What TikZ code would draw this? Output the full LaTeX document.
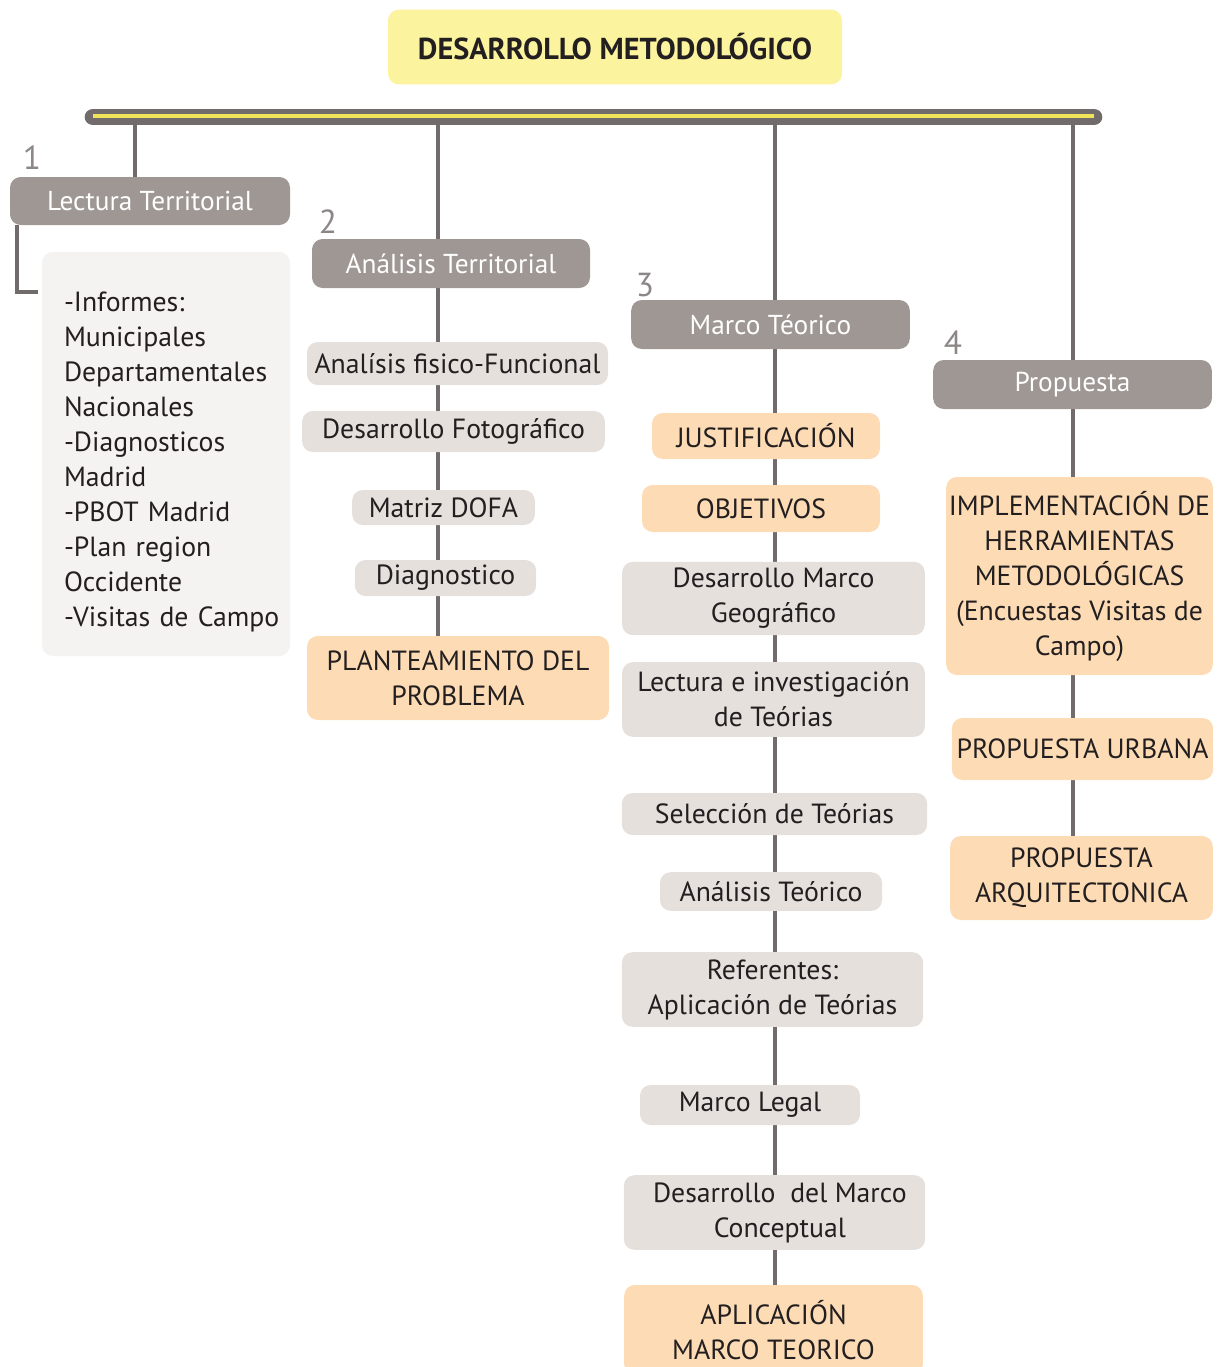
\documentclass[tikz,border=0pt]{standalone}
\usepackage{fontspec}
\setmainfont{PT Sans}
\usetikzlibrary{backgrounds,calc}
\definecolor{hdrgray}{HTML}{9E9793}
\definecolor{boxgray}{HTML}{E6E0DD}
\definecolor{lightbox}{HTML}{F5F3F1}
\definecolor{orangebox}{HTML}{FDDCB5}
\definecolor{titleyel}{HTML}{FBF39E}
\definecolor{connc}{HTML}{716C6B}
\definecolor{txt}{HTML}{231F20}
\definecolor{numc}{HTML}{8C8786}
\definecolor{baryel}{HTML}{F2E45A}
\tikzset{
  base/.style={rounded corners=8pt, inner sep=2pt, align=center, text=txt,
    font=\fontsize{20.8}{26.25}\selectfont},
  hdr/.style={base, fill=hdrgray, text=white, font=\fontsize{20.5}{24}\selectfont},
  gbox/.style={base, fill=boxgray},
  obox/.style={base, fill=orangebox},
  numlab/.style={text=numc, font=\fontsize{25}{27}\selectfont, inner sep=0pt},
  conn/.style={draw=connc, line width=3pt},
}
\begin{document}
\begin{tikzpicture}[x=0.75pt,y=-0.75pt]
\useasboundingbox (0,0) rectangle (1219,1367);
\clip (0,0) rectangle (1219,1367);
% title
\node[base, fill=titleyel, minimum width=340.5pt, minimum height=56pt,
  font=\fontsize{22.7}{26}\selectfont\bfseries] (title) at (615,47) {DESARROLLO METODOLÓGICO};
% bar
\coordinate (bl) at (93,117);
\coordinate (br) at (1094,117);
\draw[connc, line width=12.5pt, line cap=round] (bl) -- (br);
\draw[baryel, line width=3.2pt] ($(bl)+(0,-1)$) -- ($(br)+(0,-1)$);
\coordinate (b1) at (135,117);
\coordinate (b2) at (438,117);
\coordinate (b3) at (775,117);
\coordinate (b4) at (1073,117);
% headers
\node[hdr, minimum width=210pt, minimum height=36pt] (lt) at (150,201) {Lectura Territorial};
\node[hdr, minimum width=208.5pt, minimum height=36.75pt] (at) at (451,263.5) {Análisis Territorial};
\node[hdr, minimum width=209pt, minimum height=36.75pt] (mt) at (770.5,324.5) {Marco Téorico};
\node[hdr, minimum width=209pt, minimum height=36.75pt] (pr) at (1072.5,384.5) {Propuesta};
% numbers
\node[numlab] (n1) at (32,158) {1};
\node[numlab] (n2) at (328,222) {2};
\node[numlab] (n3) at (645,285) {3};
\node[numlab] (n4) at (953,343) {4};
% list box
\node[base, fill=lightbox, minimum width=186pt, minimum height=303pt, text width=186pt,
  align=left, inner xsep=0pt, inner ysep=0pt] (lst) at (166,454)
  {\hspace*{16.5pt}\raisebox{-6pt}[\height][\depth]{\begin{tabular}{@{}l@{}}-Informes:\\Municipales\\Departamentales\\Nacionales\\-Diagnosticos\\Madrid\\-PBOT Madrid\\-Plan region\\Occidente\\-Visitas de Campo\end{tabular}}};
% column 2
\node[gbox, minimum width=225.75pt, minimum height=32.25pt] (afu) at (457.5,363.5) {Analísis fisico-Funcional};
\node[gbox, minimum width=227pt, minimum height=30.75pt] (dfo) at (453.5,431.5) {Desarrollo Fotográfico};
\node[gbox, minimum width=137pt, minimum height=26.25pt] (dofa) at (443.5,507.5) {Matriz DOFA};
\node[gbox, minimum width=136pt, minimum height=27pt] (diag) at (445.5,578) {Diagnostico};
\node[obox, minimum width=226.5pt, minimum height=63pt] (plant) at (458,678) {PLANTEAMIENTO DEL\\PROBLEMA};
% column 3
\node[obox, minimum width=171pt, minimum height=34.5pt] (just) at (766,436) {JUSTIFICACIÓN};
\node[obox, minimum width=178.5pt, minimum height=35.25pt] (obj) at (761,508.5) {OBJETIVOS};
\node[gbox, minimum width=227pt, minimum height=55pt] (dmg) at (773.5,598.5) {Desarrollo Marco\\Geográfico};
\node[gbox, minimum width=227pt, minimum height=56pt] (lit) at (773.5,699.5) {Lectura e investigación\\de Teórias};
\node[gbox, minimum width=229pt, minimum height=31.5pt] (sel) at (774.5,814) {Selección de Teórias};
\node[gbox, minimum width=166.5pt, minimum height=29pt] (ant) at (771,891.5) {Análisis Teórico};
\node[gbox, minimum width=226pt, minimum height=56pt] (ref) at (772.5,989.5) {Referentes:\\Aplicación de Teórias};
\node[gbox, minimum width=165pt, minimum height=30pt] (mleg) at (750,1105) {Marco Legal};
\node[gbox, minimum width=226pt, minimum height=56pt] (dmc) at (774.5,1212.5) {\hspace*{8pt}Desarrollo\ \ del Marco\\\hspace*{8pt}Conceptual};
\node[obox, minimum width=224pt, minimum height=67.5pt] (apl) at (773.5,1330) {APLICACIÓN\\MARCO TEORICO};
% column 4
\node[obox, minimum width=200pt, minimum height=148.5pt] (imp) at (1079.5,576) {IMPLEMENTACIÓN DE\\HERRAMIENTAS\\METODOLÓGICAS\\(Encuestas Visitas de\\Campo)};
\node[obox, minimum width=196pt, minimum height=46.5pt] (pu) at (1082.5,749) {PROPUESTA URBANA};
\node[obox, minimum width=197pt, minimum height=63pt] (pa) at (1081.5,878) {PROPUESTA\\ARQUITECTONICA};
% connectors
\begin{scope}[on background layer]
\draw[conn] (b1) -- (b1 |- lt.north);
\draw[conn] (b2) -- (b2 |- plant.north);
\draw[conn] (b3) -- (b3 |- apl.north);
\draw[conn] (b4) -- (b4 |- pa.north);
\coordinate (k) at (38,292);
\draw[conn] ([xshift=5.25pt]lt.south west) |- (k);
\end{scope}
\end{tikzpicture}
\end{document}
